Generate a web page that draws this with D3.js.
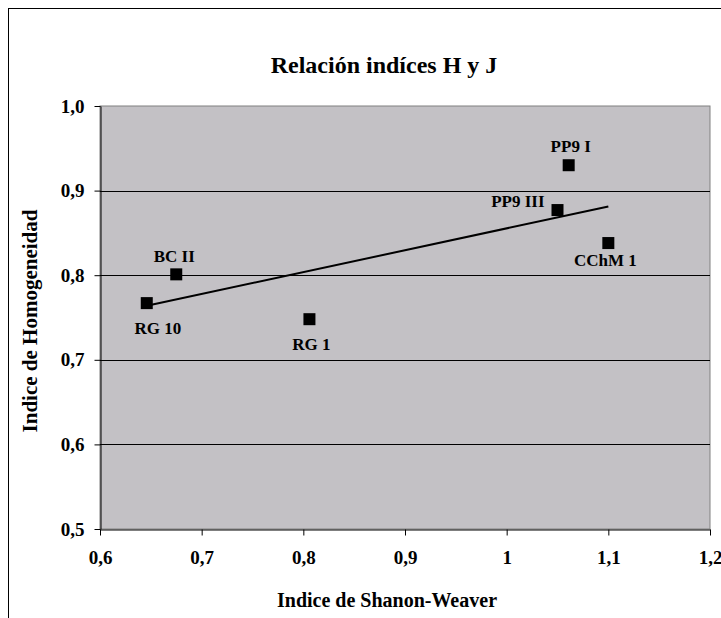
<!DOCTYPE html>
<html><head><meta charset="utf-8">
<script src="https://cdn.jsdelivr.net/npm/d3@7"></script>
<style>body{margin:0;background:#fff}svg{display:block}</style>
</head><body>
<script>
const labels = ["RG 10","BC II","RG 1","PP9 III","PP9 I","CChM 1"];
const hValues = [0.646,0.675,0.806,1.050,1.061,1.100];
const jValues = [0.767,0.801,0.748,0.877,0.930,0.838];
const xTicks = [0.6,0.7,0.8,0.9,1.0,1.1,1.2];
const yTicks = [0.5,0.6,0.7,0.8,0.9,1.0];
const fmtComma = d => d3.format(".1f")(d).replace(".", ",");
const xFmt = d => d === 1 ? "1" : fmtComma(d);

const W = 721, H = 618;
const L = 100, R = 710, T = 106, B = 529;
const svg = d3.select("body").append("svg").attr("width", W).attr("height", H);
const font = "'Liberation Serif', 'Times New Roman', serif";

svg.append("rect").attr("x",8.5).attr("y",8.5).attr("width",730).attr("height",640)
  .attr("fill","#fff").attr("stroke","#000");

const x = d3.scaleLinear().domain([0.6,1.2]).range([L,R]);
const y = d3.scaleLinear().domain([0.5,1.0]).range([B,T]);

svg.append("rect").attr("x",L).attr("y",T).attr("width",R-L).attr("height",B-T)
  .attr("fill","#c3c1c5").attr("stroke","#808080");

// gridlines
svg.append("g").selectAll("line").data(yTicks.filter(d=>d>0.5 && d<1.0)).join("line")
  .attr("x1",L).attr("x2",R).attr("y1",d=>Math.round(y(d))+0.5).attr("y2",d=>Math.round(y(d))+0.5)
  .attr("stroke","#000");

const yAxis = svg.append("g").attr("transform",`translate(${L+0.5},0)`)
  .call(d3.axisLeft(y).tickValues(yTicks).tickFormat(fmtComma).tickSize(6).tickPadding(10).tickSizeOuter(0));
const xAxis = svg.append("g").attr("transform",`translate(0,${B+0.5})`)
  .call(d3.axisBottom(x).tickValues(xTicks).tickFormat(xFmt).tickSize(6).tickPadding(15).tickSizeOuter(0));
[yAxis,xAxis].forEach(a=>{
  a.selectAll("text").attr("font-family",font).attr("font-weight","bold").attr("font-size",19).attr("fill","#000");
  a.selectAll("line,path").attr("stroke","#000");
});

// trend line (least squares)
const mx = d3.mean(hValues), my = d3.mean(jValues);
const slope = d3.sum(hValues.map((v,i)=>(v-mx)*(jValues[i]-my))) / d3.sum(hValues.map(v=>(v-mx)**2));
const icpt = my - slope*mx;
const x0 = d3.min(hValues), x1 = d3.max(hValues);
svg.append("line").attr("x1",x(x0)).attr("y1",y(icpt+slope*x0)).attr("x2",x(x1)).attr("y2",y(icpt+slope*x1))
  .attr("stroke","#000").attr("stroke-width",2);

// points
const pts = labels.map((l,i)=>({l,h:hValues[i],j:jValues[i]}));
svg.append("g").selectAll("rect").data(pts).join("rect")
  .attr("x",d=>x(d.h)-6).attr("y",d=>y(d.j)-6).attr("width",12).attr("height",12).attr("fill","#000");

const offs = {"RG 10":[11,31,"middle"],"BC II":[-2,-12,"middle"],"RG 1":[2,31,"middle"],
  "PP9 III":[-13,-3,"end"],"PP9 I":[2,-13,"middle"],"CChM 1":[-3,23,"middle"]};
svg.append("g").selectAll("text").data(pts).join("text")
  .attr("x",d=>x(d.h)+offs[d.l][0]).attr("y",d=>y(d.j)+offs[d.l][1])
  .attr("text-anchor",d=>offs[d.l][2]).attr("font-family",font).attr("font-weight","bold")
  .attr("font-size",17).text(d=>d.l);

svg.append("text").attr("x",384).attr("y",73).attr("text-anchor","middle")
  .attr("font-family",font).attr("font-weight","bold").attr("font-size",24).text("Relación indíces H y J");
svg.append("text").attr("x",387).attr("y",607).attr("text-anchor","middle")
  .attr("font-family",font).attr("font-weight","bold").attr("font-size",20).text("Indice de Shanon-Weaver");
svg.append("text").attr("transform","translate(37,321) rotate(-90)").attr("text-anchor","middle")
  .attr("font-family",font).attr("font-weight","bold").attr("font-size",21).text("Indice de Homogeneidad");
</script>
</body></html>
